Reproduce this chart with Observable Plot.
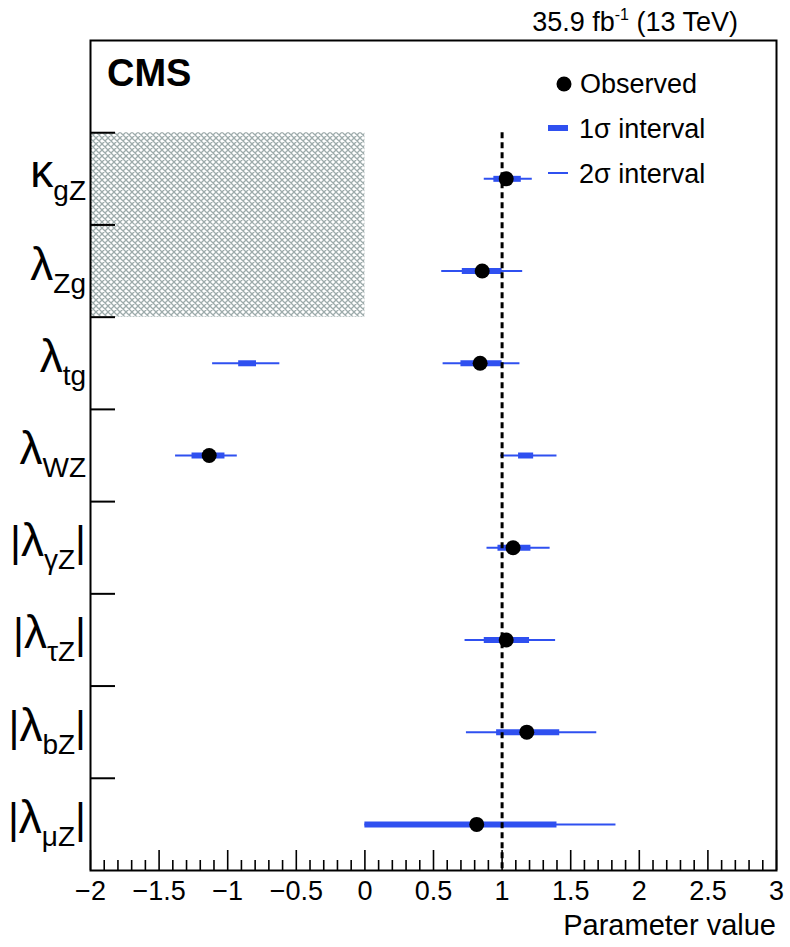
<!DOCTYPE html>
<html><head><meta charset="utf-8">
<script src="https://cdn.jsdelivr.net/npm/d3@7"></script>
<script src="https://cdn.jsdelivr.net/npm/@observablehq/plot@0.6"></script>
<style>body{margin:0;background:#fff} svg{display:block}</style>
</head><body><div id="chart"></div>
<script>
// ---- data ----
const params     = ["κgZ", "λZg", "λtg", "λWZ", "|λγZ|", "|λτZ|", "|λbZ|", "|λμZ|"];
const symbols    = ["κ", "λ", "λ", "λ", "λ", "λ", "λ", "λ"];
const subscripts = ["gZ", "Zg", "tg", "WZ", "γZ", "τZ", "bZ", "μZ"];
const absValue   = [false, false, false, false, true, true, true, true];
const observed   = [1.03, 0.855, 0.84, -1.135, 1.08, 1.03, 1.18, 0.815];

// 1 sigma intervals (parameter, low, high)
const sigma1Param = ["κgZ", "λZg", "λtg", "λtg", "λWZ", "λWZ", "|λγZ|", "|λτZ|", "|λbZ|", "|λμZ|"];
const sigma1Lo    = [0.94, 0.71, -0.92, 0.70, -1.26, 1.12, 0.97, 0.87, 0.96, 0.0];
const sigma1Hi    = [1.14, 1.00, -0.79, 1.00, -1.02, 1.23, 1.21, 1.20, 1.42, 1.40];
// 2 sigma intervals
const sigma2Param = ["κgZ", "λZg", "λtg", "λtg", "λWZ", "λWZ", "|λγZ|", "|λτZ|", "|λbZ|", "|λμZ|"];
const sigma2Lo    = [0.87, 0.56, -1.11, 0.57, -1.38, 0.99, 0.89, 0.73, 0.74, 0.0];
const sigma2Hi    = [1.22, 1.15, -0.62, 1.13, -0.93, 1.40, 1.35, 1.39, 1.69, 1.83];

// physically excluded region (negative values not allowed)
const excludedParams = ["κgZ", "λZg"];
const excludedFrom = -2, excludedTo = 0;

const smValue = 1;
const xDomain = [-2, 3];
const xMajor = [-2, -1.5, -1, -0.5, 0, 0.5, 1, 1.5, 2, 2.5, 3];
const xLabels = ["−2", "−1.5", "−1", "−0.5", "0", "0.5", "1", "1.5", "2", "2.5", "3"];
const xMinor = d3.range(-20, 31).map(d => d / 10).filter(d => Math.abs(d * 2 - Math.round(d * 2)) > 1e-9);

// ---- derived tables ----
const rowOf = p => params.indexOf(p) + 1;
const obs = params.map((p, i) => ({row: rowOf(p), v: observed[i]}));
const s1 = sigma1Param.map((p, i) => ({row: rowOf(p), lo: sigma1Lo[i], hi: sigma1Hi[i]}));
const s2 = sigma2Param.map((p, i) => ({row: rowOf(p), lo: sigma2Lo[i], hi: sigma2Hi[i]}));
const hatch = excludedParams.map(p => ({x1: excludedFrom, x2: excludedTo, y1: rowOf(p) - 0.5, y2: rowOf(p) + 0.5}));
const yBounds = d3.range(0, params.length).map(i => i + 0.5);

const W = 790, H = 947, ML = 90, MR = 14, MT = 40, MB = 77;
const FW = W - ML - MR, FH = H - MT - MB;
const BLUE = "#2f50f0";
const FONT = "'Liberation Sans', Arial, Helvetica, sans-serif";

const plot = Plot.plot({
  width: W, height: H,
  marginLeft: ML, marginRight: MR, marginTop: MT, marginBottom: MB,
  style: {fontFamily: FONT, background: "white", color: "black"},
  x: {domain: xDomain},
  y: {domain: [-0.5, params.length + 0.5], reverse: true, axis: null},
  marks: [
    Plot.rect(hatch, {x1: "x1", x2: "x2", y1: "y1", y2: "y2", fill: "url(#hatch)"}),
    Plot.ruleY(s2, {y: "row", x1: "lo", x2: "hi", stroke: BLUE, strokeWidth: 2}),
    Plot.ruleY(s1, {y: "row", x1: "lo", x2: "hi", stroke: BLUE, strokeWidth: 6}),
    Plot.ruleX([smValue], {x: d => d, y1: 0.5, y2: params.length + 0.5, stroke: "black", strokeWidth: 3, strokeDasharray: "6,4"}),
    Plot.dot(obs, {x: "v", y: "row", r: 7.5, fill: "black", stroke: null}),
    Plot.tickY(yBounds, {y: d => d, insetRight: FW - 25, stroke: "black", strokeWidth: 2}),
    Plot.tickX(xMajor, {x: d => d, insetTop: FH - 20, stroke: "black", strokeWidth: 1.6}),
    Plot.tickX(xMinor, {x: d => d, insetTop: FH - 10, stroke: "black", strokeWidth: 1.6}),
    Plot.frame({stroke: "black", strokeWidth: 2}),
    Plot.axisX(xMajor, {tickSize: 0, tickPadding: 10, fontSize: 27, tickFormat: d => xLabels[xMajor.indexOf(d)]})
  ]
});

const svg = d3.select(plot);
// hatch pattern
const defs = svg.insert("defs", ":first-child");
const pat = defs.append("pattern").attr("id", "hatch").attr("patternUnits", "userSpaceOnUse")
  .attr("width", 6).attr("height", 6);
pat.append("rect").attr("width", 6).attr("height", 6).attr("fill", "white");
pat.append("path").attr("d", "M-1,-1L7,7M-1,7L7,-1M5,-1L7,1M-1,5L1,7")
  .attr("stroke", "#9dabab").attr("stroke-width", 1.3).attr("fill", "none");

const ys = plot.scale("y");
const ann = svg.append("g").attr("font-family", FONT).attr("fill", "black").attr("text-anchor", "start");

// y labels
params.forEach((p, i) => {
  const cy = ys.apply(rowOf(p));
  const t = ann.append("text").attr("x", 86).attr("y", cy + 9).attr("text-anchor", "end");
  if (absValue[i]) t.append("tspan").attr("font-size", 42).text("|");
  t.append("tspan").attr("font-size", 46).text(symbols[i]);
  t.append("tspan").attr("font-size", 28).attr("dy", 13).text(subscripts[i]);
  if (absValue[i]) t.append("tspan").attr("font-size", 42).attr("dy", -13).text("|");
});

// top-right luminosity label
const lum = ann.append("text").attr("x", 738).attr("y", 31).attr("text-anchor", "end").attr("font-size", 27);
lum.append("tspan").text("35.9 fb");
lum.append("tspan").attr("font-size", 16).attr("dy", -11).text("-1");
lum.append("tspan").attr("dy", 11).text(" (13 TeV)");

// CMS
ann.append("text").attr("x", 107).attr("y", 86).attr("font-size", 38).attr("font-weight", "bold").text("CMS");

// legend
ann.append("circle").attr("cx", 564).attr("cy", 84).attr("r", 7.5).attr("fill", "black");
ann.append("text").attr("x", 580).attr("y", 93).attr("font-size", 27).text("Observed");
ann.append("line").attr("x1", 548).attr("x2", 568).attr("y1", 128).attr("y2", 128).attr("stroke", BLUE).attr("stroke-width", 6);
ann.append("text").attr("x", 579).attr("y", 138).attr("font-size", 27).text("1σ interval");
ann.append("line").attr("x1", 548).attr("x2", 568).attr("y1", 173).attr("y2", 173).attr("stroke", BLUE).attr("stroke-width", 2);
ann.append("text").attr("x", 579).attr("y", 183).attr("font-size", 27).text("2σ interval");

// x label
ann.append("text").attr("x", 776).attr("y", 935).attr("text-anchor", "end").attr("font-size", 29).text("Parameter value");

document.getElementById("chart").appendChild(plot);
</script>
</body></html>
